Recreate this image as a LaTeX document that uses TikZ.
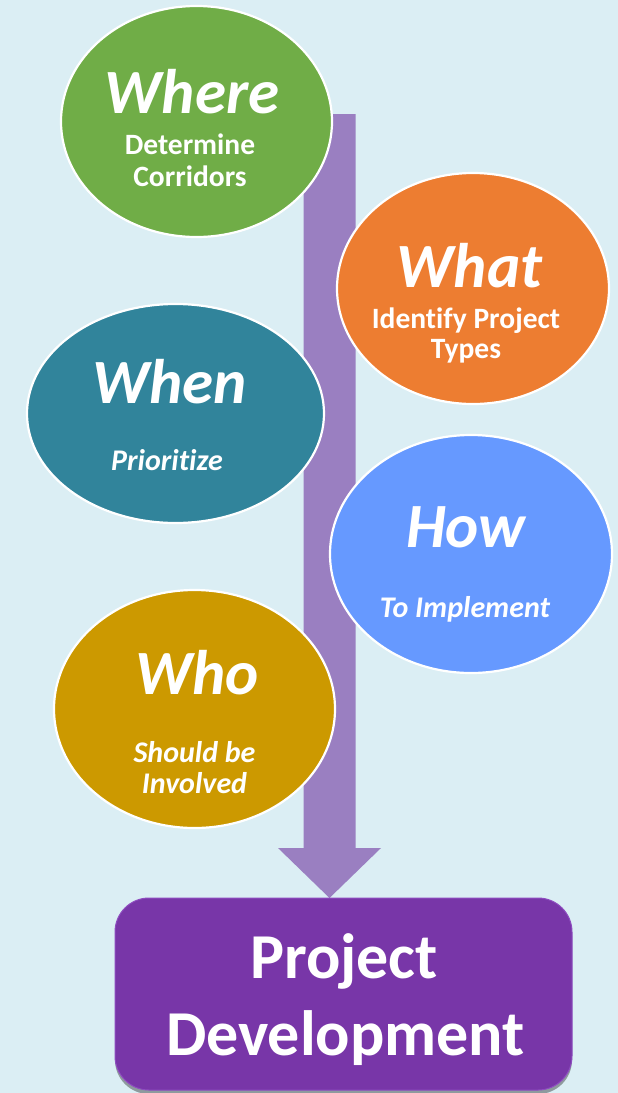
\documentclass[tikz,border=0pt]{standalone}
\usepackage{fontspec}
\setmainfont{Carlito}[Ligatures=NoCommon]
\usetikzlibrary{shapes.geometric,shadows}
\definecolor{bgc}{HTML}{DBEEF4}
\definecolor{greenc}{HTML}{70AD47}
\definecolor{orangec}{HTML}{ED7D31}
\definecolor{tealc}{HTML}{31849B}
\definecolor{bluec}{HTML}{6699FF}
\definecolor{goldc}{HTML}{CC9900}
\definecolor{arrowc}{HTML}{9A7FC1}
\definecolor{boxc}{HTML}{7836A8}
\definecolor{boxedge}{HTML}{8E4CC0}
\tikzset{
  bub/.style={ellipse, draw=white, line width=2.2pt, inner sep=0pt},
  title/.style={anchor=base, text=white, inner sep=0pt, font=\fontsize{63}{66}\selectfont\bfseries\itshape},
  sub/.style={anchor=base, text=white, inner sep=0pt, font=\fontsize{29.5}{31}\selectfont\bfseries},
  subit/.style={anchor=base, text=white, inner sep=0pt, font=\fontsize{30}{31}\selectfont\bfseries\itshape},
  big/.style={anchor=base, text=white, inner sep=0pt, font=\fontsize{64}{77}\selectfont\bfseries},
  pdbox/.style={rectangle, rounded corners=34pt, fill=boxc, draw=boxedge, line width=1pt,
    drop shadow={shadow xshift=0pt, shadow yshift=-4pt, opacity=0.35, fill=black}}
}
\begin{document}
\begin{tikzpicture}[x=1pt,y=-1pt]
\fill[bgc] (0,0) rectangle (618,1093);
\useasboundingbox (0,0) rectangle (618,1093);

% big arrow
\coordinate (st) at (329.5,114);
\coordinate (tip) at (329.5,898);
\fill[arrowc] ([xshift=-26pt]st) -- ([xshift=26pt]st) -- (355.5,848) -- (381,848) -- (tip)
  -- (278,848) -- (303.5,848) -- cycle;

% bubbles
\node[bub, fill=greenc, minimum width=271, minimum height=231] (where) at (196.5,121.5) {};
\node[bub, fill=orangec, minimum width=272, minimum height=231] (what) at (473,288.5) {};
\node[bub, fill=tealc, minimum width=297, minimum height=219] (when) at (175.5,413.5) {};
\node[bub, fill=bluec, minimum width=282, minimum height=238] (how) at (471,554) {};
\node[bub, fill=goldc, minimum width=281, minimum height=238] (who) at (194.5,709) {};

% texts
\node[title] (t1) at (192,113) {Where};
\node[sub] (s1a) at (190,154) {Determine};
\node[sub] (s1b) at (190,186) {Corridors};

\node[title] (t2) at (469.5,287) {What};
\node[sub] (s2a) at (466,328) {Identify Project};
\node[sub] (s2b) at (466,358) {Types};

\node[title] (t3) at (169.5,403) {When};
\node[subit] (s3) at (167,470) {Prioritize};

\node[title] (t4) at (466,547) {How};
\node[subit] (s4) at (465,617) {To Implement};

\node[title] (t5) at (197,694) {Who};
\node[subit] (s5a) at (194.5,762) {Should be};
\node[subit] (s5b) at (194.5,793) {Involved};

% final box
\node[pdbox, minimum width=457, minimum height=192] (pd) at (343.5,994) {};
\node[big] (pd1) at (344,978) {Project};
\node[big] (pd2) at (345.5,1055) {Development};
\end{tikzpicture}
\end{document}
